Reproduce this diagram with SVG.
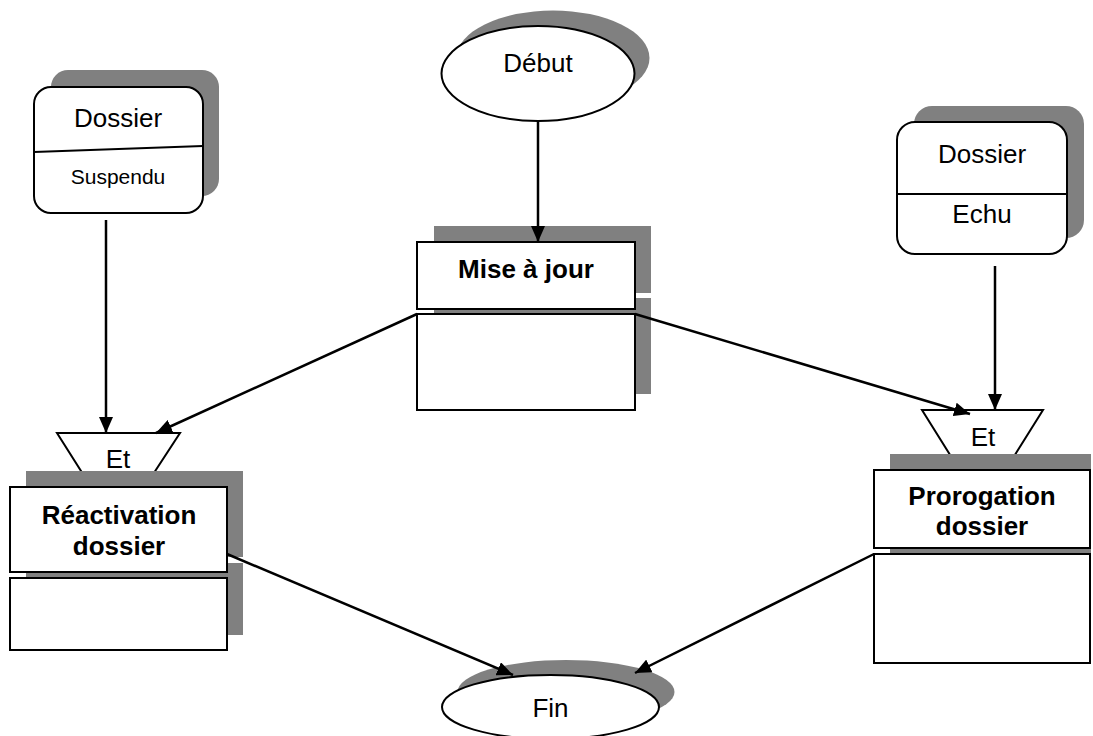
<svg xmlns="http://www.w3.org/2000/svg" width="1093" height="736" viewBox="0 0 1093 736">
  <style>
    .shadow { fill: #808080; stroke: none; }
    .shape { fill: #ffffff; stroke: #000000; stroke-width: 2; }
    .edge { fill: none; stroke: #000000; stroke-width: 2.5; }
    .txt { font-family: "Liberation Sans", Arial, sans-serif; font-size: 26px; fill: #000000; text-anchor: middle; }
    .bold { font-weight: bold; }
    .small { font-size: 21px; }
  </style>
  <defs>
    <marker id="arrow" markerUnits="userSpaceOnUse" markerWidth="16" markerHeight="14" refX="16" refY="7" orient="auto">
      <path d="M0,0 L16,7 L0,14 Z" fill="#000000"/>
    </marker>
  </defs>
  <rect width="1093" height="736" fill="#ffffff"/>

  <!-- start event -->
  <g id="debut">
    <ellipse class="shadow" cx="553" cy="58" rx="96.5" ry="47.5"/>
    <ellipse class="shape" cx="538" cy="73.5" rx="96.5" ry="47.5"/>
    <text class="txt" x="538" y="72">Début</text>
  </g>

  <!-- state: suspended file -->
  <g id="dossier-suspendu">
    <rect class="shadow" x="51" y="70" width="168" height="126" rx="17"/>
    <rect class="shape" x="34" y="87" width="169" height="126" rx="17"/>
    <line class="shape" x1="34" y1="152" x2="203" y2="146"/>
    <text class="txt" x="118" y="127">Dossier</text>
    <text class="txt small" x="118" y="184">Suspendu</text>
  </g>

  <!-- state: expired file -->
  <g id="dossier-echu">
    <rect class="shadow" x="914" y="106" width="170" height="132" rx="18"/>
    <rect class="shape" x="897" y="122" width="170" height="132" rx="18"/>
    <line class="shape" x1="897" y1="194" x2="1067" y2="194"/>
    <text class="txt" x="982" y="163">Dossier</text>
    <text class="txt" x="982" y="223">Echu</text>
  </g>

  <!-- operation: update -->
  <g id="mise-a-jour">
    <rect class="shadow" x="434" y="226" width="217" height="67"/>
    <rect class="shadow" x="434" y="298" width="217" height="96"/>
    <rect class="shape" x="417" y="242" width="218" height="67"/>
    <rect class="shape" x="417" y="314" width="218" height="96"/>
    <text class="txt bold" x="526" y="278">Mise à jour</text>
  </g>

  <!-- synchronisation left -->
  <g id="et-gauche">
    <polygon class="shape" points="57,433 180,433 148,482 88,482"/>
    <text class="txt" x="118" y="468">Et</text>
  </g>

  <!-- synchronisation right -->
  <g id="et-droite">
    <polygon class="shape" points="922,410 1043,410 1013,458 952,458"/>
    <text class="txt" x="983" y="446">Et</text>
  </g>

  <!-- operation: reactivation -->
  <g id="reactivation">
    <rect class="shadow" x="26" y="471" width="217" height="86"/>
    <rect class="shadow" x="26" y="563" width="217" height="72"/>
    <rect class="shape" x="10" y="487" width="217" height="85"/>
    <rect class="shape" x="10" y="578" width="217" height="72"/>
    <text class="txt bold" x="119" y="524">Réactivation</text>
    <text class="txt bold" x="119" y="555">dossier</text>
  </g>

  <!-- operation: extension -->
  <g id="prorogation">
    <rect class="shadow" x="890" y="454" width="201" height="78"/>
    <rect class="shadow" x="890" y="538" width="201" height="109"/>
    <rect class="shape" x="874" y="470" width="216" height="78"/>
    <rect class="shape" x="874" y="554" width="216" height="109"/>
    <text class="txt bold" x="982" y="505">Prorogation</text>
    <text class="txt bold" x="982" y="535">dossier</text>
  </g>

  <!-- end event -->
  <g id="fin">
    <ellipse class="shadow" cx="566" cy="692" rx="108.5" ry="32"/>
    <ellipse class="shape" cx="550.5" cy="707" rx="108.5" ry="32"/>
    <text class="txt" x="550.5" y="717">Fin</text>
  </g>

  <!-- connectors -->
  <g id="connectors">
    <line class="edge" x1="538" y1="121" x2="538" y2="242" marker-end="url(#arrow)"/>
    <line class="edge" x1="106" y1="220" x2="106" y2="433" marker-end="url(#arrow)"/>
    <line class="edge" x1="417" y1="314" x2="156" y2="433" marker-end="url(#arrow)"/>
    <line class="edge" x1="635" y1="314" x2="970" y2="414" marker-end="url(#arrow)"/>
    <line class="edge" x1="995" y1="266" x2="995" y2="410" marker-end="url(#arrow)"/>
    <line class="edge" x1="227" y1="554" x2="513" y2="675" marker-end="url(#arrow)"/>
    <line class="edge" x1="874" y1="554" x2="635" y2="673" marker-end="url(#arrow)"/>
  </g>
</svg>
